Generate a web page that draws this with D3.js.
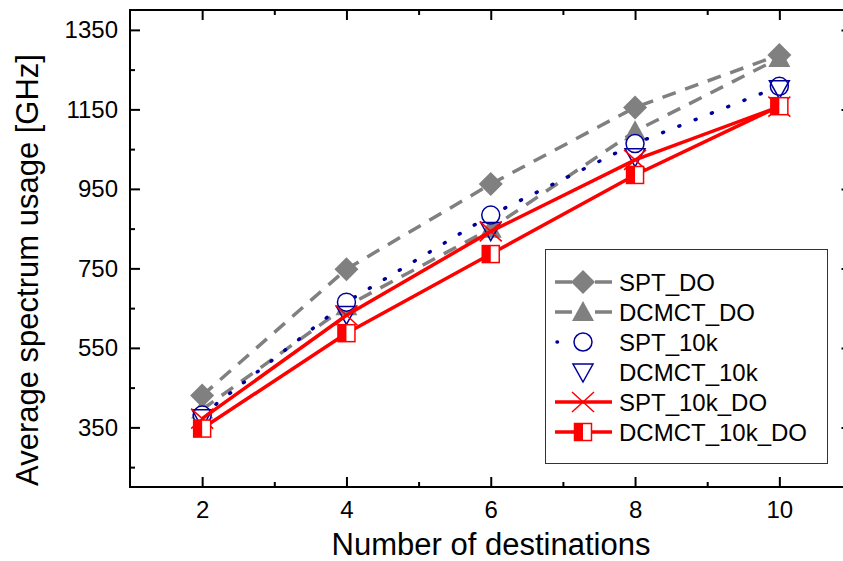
<!DOCTYPE html>
<html>
<head>
<meta charset="utf-8">
<script src="https://cdn.jsdelivr.net/npm/d3@7"></script>
<style>
  html, body { margin: 0; padding: 0; background: #fff; }
  svg { display: block; font-family: Arial, "Liberation Sans", sans-serif; }
</style>
</head>
<body>
<svg id="chart" width="843" height="561"></svg>
<script>
// Number of destinations
const destinations = [2, 4, 6, 8, 10];

// Average spectrum usage [GHz] for each scheme
const sptDO        = [430, 748, 962, 1155, 1287];
const dcmctDO      = [395, 655, 850, 1095, 1279];
const spt10k       = [381, 665, 884, 1064, 1208];
const dcmct10k     = [374, 634, 845, 1031, 1202];
const spt10kDO     = [372, 632, 843, 1023, 1157];
const dcmct10kDO   = [347, 587, 786, 985, 1158];

const seriesNames = ["SPT_DO", "DCMCT_DO", "SPT_10k", "DCMCT_10k", "SPT_10k_DO", "DCMCT_10k_DO"];

const xTicks = [2, 4, 6, 8, 10];
const yTicks = [350, 550, 750, 950, 1150, 1350];

const GRAY = "#808080", BLUE = "#000099", RED = "#ff0000";

const series = [
  { name: seriesNames[0], values: sptDO,      line: { stroke: GRAY, width: 3.5, dash: "14,10", cap: "butt" }, marker: "diamond" },
  { name: seriesNames[1], values: dcmctDO,    line: { stroke: GRAY, width: 3.5, dash: "14,10", cap: "butt" }, marker: "triUp" },
  { name: seriesNames[2], values: spt10k,     line: { stroke: BLUE, width: 3.5, dash: "1,16.5", cap: "round" }, marker: "circle" },
  { name: seriesNames[3], values: dcmct10k,   line: null, marker: "triDown" },
  { name: seriesNames[4], values: spt10kDO,   line: { stroke: RED, width: 3.5, dash: null, cap: "butt" }, marker: "times" },
  { name: seriesNames[5], values: dcmct10kDO, line: { stroke: RED, width: 3.5, dash: null, cap: "butt" }, marker: "halfSquare" }
];

const svg = d3.select("#chart");

const x = d3.scaleLinear().domain([1, 11]).range([130, 851.5]);
const y = d3.scaleLinear().domain([200, 1400]).range([487, 10]);

const plotL = x.range()[0], plotR = x.range()[1];
const plotT = y.range()[1], plotB = y.range()[0];

// Axes: ticks point inward, minor ticks between majors
const minorX = d3.range(3, 11, 2);
const minorY = d3.range(250, 1400, 200);

function tickStyle(g) {
  g.select(".domain").remove();
  g.selectAll(".tick line").attr("stroke", "#000").attr("stroke-width", 2);
}

// bottom
svg.append("g").attr("transform", `translate(0,${plotB})`)
  .call(d3.axisBottom(x).tickValues(xTicks).tickSize(-10).tickPadding(14).tickFormat(d3.format("d")))
  .call(tickStyle)
  .call(g => g.selectAll("text").attr("font-size", 24).attr("fill", "#000").attr("font-family", "Arial, 'Liberation Sans', sans-serif"));
svg.append("g").attr("transform", `translate(0,${plotB})`)
  .call(d3.axisBottom(x).tickValues(minorX).tickSize(-5).tickFormat(""))
  .call(tickStyle);
// top
svg.append("g").attr("transform", `translate(0,${plotT})`)
  .call(d3.axisTop(x).tickValues(xTicks).tickSize(-10).tickFormat(""))
  .call(tickStyle);
svg.append("g").attr("transform", `translate(0,${plotT})`)
  .call(d3.axisTop(x).tickValues(minorX).tickSize(-5).tickFormat(""))
  .call(tickStyle);
// left
svg.append("g").attr("transform", `translate(${plotL},0)`)
  .call(d3.axisLeft(y).tickValues(yTicks).tickSize(-10).tickPadding(12).tickFormat(d3.format("d")))
  .call(tickStyle)
  .call(g => g.selectAll("text").attr("font-size", 24).attr("fill", "#000").attr("font-family", "Arial, 'Liberation Sans', sans-serif"));
svg.append("g").attr("transform", `translate(${plotL},0)`)
  .call(d3.axisLeft(y).tickValues(minorY).tickSize(-5).tickFormat(""))
  .call(tickStyle);
// right
svg.append("g").attr("transform", `translate(${plotR},0)`)
  .call(d3.axisRight(y).tickValues(yTicks).tickSize(-10).tickFormat(""))
  .call(tickStyle);
svg.append("g").attr("transform", `translate(${plotR},0)`)
  .call(d3.axisRight(y).tickValues(minorY).tickSize(-5).tickFormat(""))
  .call(tickStyle);

// frame
svg.append("rect")
  .attr("x", plotL).attr("y", plotT)
  .attr("width", plotR - plotL).attr("height", plotB - plotT)
  .attr("fill", "none").attr("stroke", "#000").attr("stroke-width", 2);

// axis titles
svg.append("text")
  .attr("x", 491).attr("y", 555)
  .attr("text-anchor", "middle")
  .attr("font-size", 31)
  .text("Number of destinations");
svg.append("text")
  .attr("transform", "translate(38,270) rotate(-90)")
  .attr("text-anchor", "middle")
  .attr("font-size", 31)
  .text("Average spectrum usage [GHz]");

// marker drawing
function drawMarker(g, type) {
  switch (type) {
    case "diamond":
      g.append("path").attr("d", "M0,-12L12,0L0,12L-12,0Z").attr("fill", GRAY);
      break;
    case "triUp":
      g.append("path").attr("d", "M0,-11L11,9L-11,9Z").attr("fill", GRAY);
      break;
    case "circle":
      g.append("circle").attr("r", 9).attr("fill", "#fff").attr("stroke", BLUE).attr("stroke-width", 1.5);
      break;
    case "triDown":
      g.append("path").attr("d", "M0,10L10,-8L-10,-8Z").attr("fill", "none").attr("stroke", BLUE).attr("stroke-width", 1.5);
      break;
    case "times":
      g.append("path").attr("d", "M-11,-10L11,10M11,-10L-11,10").attr("fill", "none").attr("stroke", RED).attr("stroke-width", 1.5);
      break;
    case "halfSquare":
      g.append("rect").attr("x", -8.5).attr("y", -8.5).attr("width", 17).attr("height", 17)
        .attr("fill", "#fff").attr("stroke", RED).attr("stroke-width", 1.5);
      g.append("rect").attr("x", -8.5).attr("y", -8.5).attr("width", 8.5).attr("height", 17)
        .attr("fill", RED);
      break;
  }
}

const lineGen = d3.line().x(d => x(d[0])).y(d => y(d[1]));

const plot = svg.append("g");
series.forEach(s => {
  const pts = destinations.map((d, i) => [d, s.values[i]]);
  if (s.line) {
    plot.append("path")
      .attr("d", lineGen(pts))
      .attr("fill", "none")
      .attr("stroke", s.line.stroke)
      .attr("stroke-width", s.line.width)
      .attr("stroke-linecap", s.line.cap)
      .attr("stroke-dasharray", s.line.dash);
  }
  pts.forEach(p => {
    const g = plot.append("g").attr("transform", `translate(${x(p[0])},${y(p[1])})`);
    drawMarker(g, s.marker);
  });
});

// legend
const legend = svg.append("g");
legend.append("rect")
  .attr("x", 545.5).attr("y", 249.5).attr("width", 282).attr("height", 214)
  .attr("fill", "#fff").attr("stroke", "#333").attr("stroke-width", 1);

series.forEach((s, i) => {
  const cy = 282 + i * 30;
  const g = legend.append("g");
  if (s.line) {
    if (s.line.stroke === BLUE) {
      g.append("path").attr("d", `M557,${cy}L609,${cy}`)
        .attr("stroke", BLUE).attr("stroke-width", 3.5)
        .attr("stroke-linecap", "round").attr("stroke-dasharray", "0.5,51.5");
    } else if (s.line.dash) {
      g.append("path").attr("d", `M555,${cy}L612,${cy}`)
        .attr("stroke", s.line.stroke).attr("stroke-width", 3.5)
        .attr("stroke-dasharray", "17,23");
    } else {
      g.append("path").attr("d", `M555,${cy}L612,${cy}`)
        .attr("stroke", s.line.stroke).attr("stroke-width", 3.5);
    }
  }
  const m = g.append("g").attr("transform", `translate(583,${cy})`);
  drawMarker(m, s.marker);
  g.append("text")
    .attr("x", 619).attr("y", cy).attr("dy", "0.36em")
    .attr("font-size", 24)
    .text(s.name);
});
</script>
</body>
</html>
